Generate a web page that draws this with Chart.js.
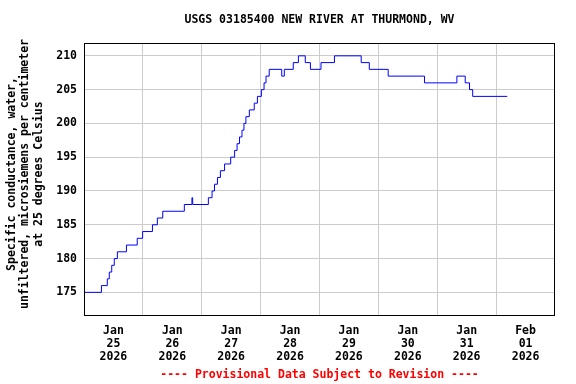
<!DOCTYPE html>
<html>
<head>
<meta charset="utf-8">
<script src="https://cdn.jsdelivr.net/npm/chart.js@4"></script>
<style>
	html, body { margin: 0; padding: 0; background: #fff; }
</style>
</head>
<body>
<canvas id="myChart" width="576" height="384"></canvas>
<script>

var FONT = '"DejaVu Sans Mono", "Liberation Mono", monospace';

var chartTitle  = 'USGS 03185400 NEW RIVER AT THURMOND, WV';
var footerText  = '---- Provisional Data Subject to Revision ----';
var yAxisTitle  = [
	'Specific conductance, water,',
	'unfiltered, microsiemens per centimeter',
	'at 25 degrees Celsius'
];

// x axis runs in hours from 2026-01-24 12:00 to 2026-02-01 12:00
var dayLabels = [
	['Jan', '25', '2026'],
	['Jan', '26', '2026'],
	['Jan', '27', '2026'],
	['Jan', '28', '2026'],
	['Jan', '29', '2026'],
	['Jan', '30', '2026'],
	['Jan', '31', '2026'],
	['Feb', '01', '2026']
];
var yTicks = [175, 180, 185, 190, 195, 200, 205, 210];

// hour at which the reading changes, and the new reading (uS/cm)
var hours = [
	0, 7.1, 9.5, 10.3, 11.3, 12.35, 13.6, 17.3, 21.7, 23.9,
	27.9, 29.9, 32.1, 40.9, 44.0, 44.3, 50.7, 52.2, 53.2, 54.4,
	55.6, 57.3, 59.8, 61.4, 62.4, 63.4, 64.4, 65.2, 66.0, 67.4,
	69.4, 70.7, 72.3, 73.4, 74.2, 75.5, 80.6, 81.65, 85.3, 87.4,
	90.2, 92.3, 96.6, 102.1, 113.0, 116.3, 124.0, 138.8, 152.0, 155.4,
	157.15, 158.45, 172.55
];
var values = [
	175, 176, 177, 178, 179, 180, 181, 182, 183, 184,
	185, 186, 187, 188, 189, 188, 189, 190, 191, 192,
	193, 194, 195, 196, 197, 198, 199, 200, 201, 202,
	203, 204, 205, 206, 207, 208, 207, 208, 209, 210,
	209, 208, 209, 210, 209, 208, 207, 206, 207, 206,
	205, 204, 204
];

var points = hours.map((h, i) => ({ x : h, y : values[i] }));

var framePlugin = {
	id : 'frame',
	afterDraw : (chart) => {
		var ctx = chart.ctx;
		var a   = chart.chartArea;
		var cx  = (a.left + a.right) / 2;

		ctx.save();
		ctx.strokeStyle = '#000';
		ctx.lineWidth   = 1;
		ctx.strokeRect(a.left + 0.5, a.top + 0.5, a.right - a.left - 1, a.bottom - a.top - 1);

		ctx.font         = 'bold 11.5px ' + FONT;
		ctx.textAlign    = 'center';
		ctx.textBaseline = 'middle';
		ctx.fillStyle    = '#000';
		ctx.fillText(chartTitle, cx, 20);

		ctx.fillStyle = '#ff0000';
		ctx.fillText(footerText, cx, 375);

		ctx.fillStyle = '#000';
		ctx.translate(0, 174);
		ctx.rotate(-Math.PI / 2);
		yAxisTitle.forEach((line, i) => {
			ctx.fillText(line, 0, 12 + i * 13.3);
		});
		ctx.restore();
	}
};

var ctx = document.getElementById('myChart');
var myChart = new Chart(ctx, {
	type : 'line',
	data : {
		datasets : [{
			data        : points,
			stepped     : 'before',
			borderColor : '#0000ff',
			borderWidth : 1,
			pointRadius : 0,
			fill        : false
		}]
	},
	options : {
		responsive       : false,
		animation        : false,
		devicePixelRatio : 1,
		layout : {
			padding : { top : 43, right : 21, left : 0, bottom : 0 }
		},
		plugins : {
			legend  : { display : false },
			tooltip : { enabled : false }
		},
		scales : {
			x : {
				type : 'linear',
				min  : 0,
				max  : 192,
				afterBuildTicks : (scale) => {
					var t = [];
					for (var h = 12; h <= 180; h += 12) t.push({ value : h });
					scale.ticks = t;
				},
				afterFit : (scale) => { scale.height = 68; },
				grid : {
					drawTicks : false,
					color     : (c) => (c.tick && c.tick.value % 24 === 0) ? '#cccccc' : 'rgba(0,0,0,0)',
					lineWidth : 1
				},
				border : { display : false },
				ticks : {
					autoSkip    : false,
					maxRotation : 0,
					padding     : 8,
					color       : '#000',
					font        : { family : FONT, size : 11.5, weight : 'bold', lineHeight : 1.16 },
					callback    : (v) => ((v - 12) % 24 === 0) ? dayLabels[(v - 12) / 24] : ''
				}
			},
			y : {
				min : 171.5,
				max : 211.9,
				afterBuildTicks : (scale) => {
					scale.ticks = yTicks.map(v => ({ value : v }));
				},
				afterFit : (scale) => { scale.width = 84; },
				grid : {
					drawTicks : false,
					color     : '#cccccc',
					lineWidth : 1
				},
				border : { display : false },
				ticks : {
					padding : 7,
					color   : '#000',
					font    : { family : FONT, size : 11.5, weight : 'bold' }
				}
			}
		}
	},
	plugins : [framePlugin]
});
</script>
</body>
</html>
